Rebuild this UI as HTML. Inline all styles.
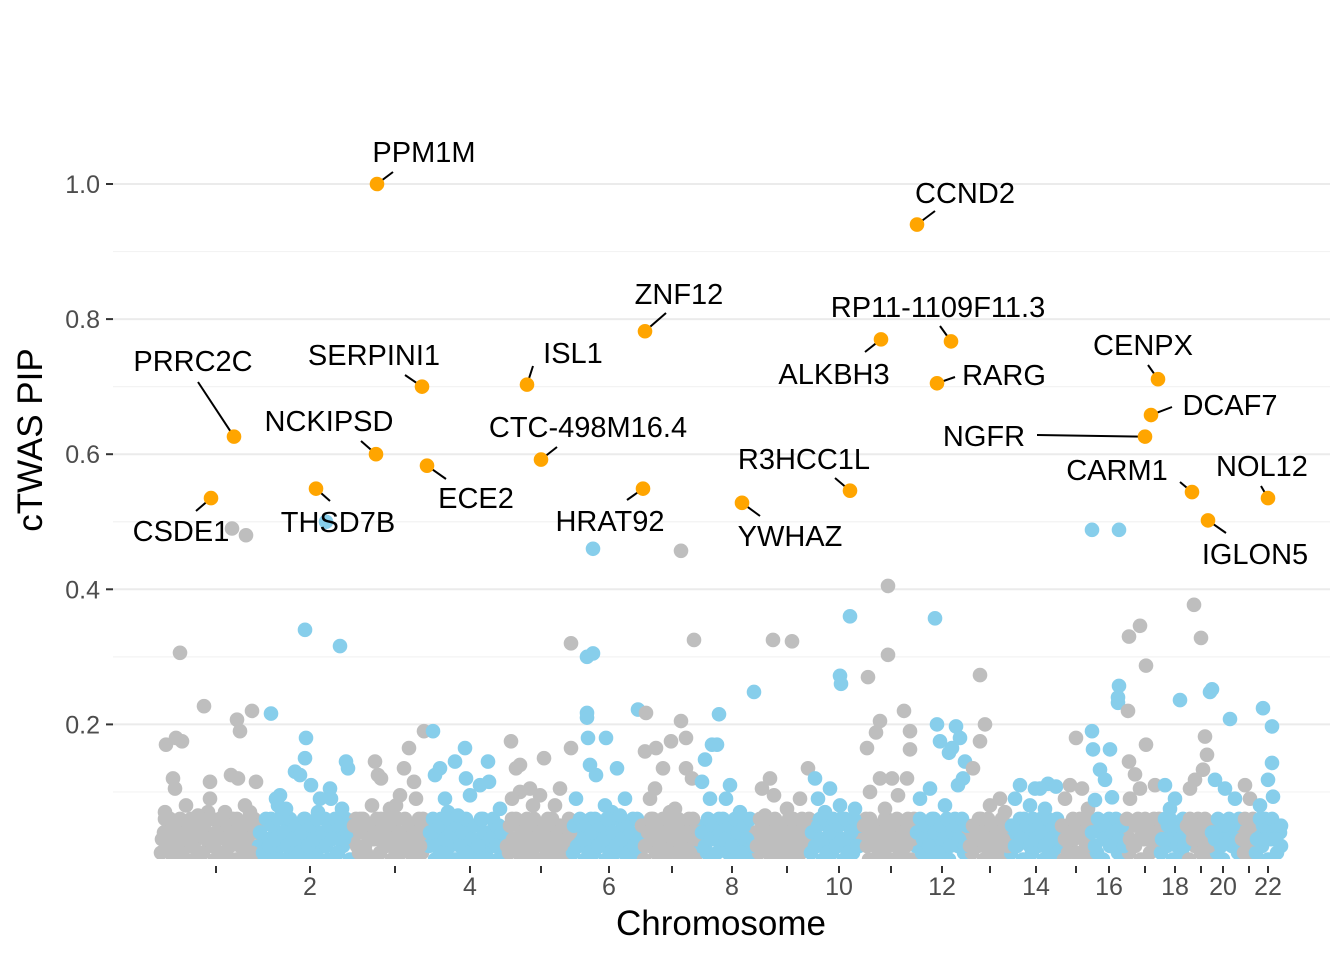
<!DOCTYPE html>
<html><head><meta charset="utf-8">
<style>
html,body{margin:0;padding:0;background:#fff;}
svg{display:block;font-family:"Liberation Sans",sans-serif;}
</style></head>
<body>
<svg id="chart" width="1344" height="960" viewBox="0 0 1344 960">
<defs><clipPath id="panel"><rect x="113" y="100" width="1217" height="759"/></clipPath></defs>
<g id="grid"></g>
<g id="pts" clip-path="url(#panel)"></g>
<g id="labels"></g>
<g id="axes"></g>
<text x="721" y="935" text-anchor="middle" font-size="35" fill="#000">Chromosome</text>
<text transform="translate(42,440) rotate(-90)" text-anchor="middle" font-size="35" fill="#000">cTWAS PIP</text>
</svg>
<script>
const chromLen = [98,94,76,77,67,68,60,55,55,52,53,53,42,50,30,35,35,25,25,30,15,27];
const xTickPos = [56,150,235,310,381,449,512,572,627,679,731,782,830,876,916,949,985,1015,1041,1063,1089,1108];
const yTicks = [0.2,0.4,0.6,0.8,1.0];
const yTickLabels = ["0.2","0.4","0.6","0.8","1.0"];
const yMinor = [0.1,0.3,0.5,0.7,0.9];
// mid points: [chr, pos, pip]
const midPoints = [
[1,6,.17],[1,16,.18],[1,22,.175],[1,20,.306],[1,44,.227],[1,13,.12],[1,15,.105],[1,26,.08],[1,50,.115],[1,50,.09],[1,71,.125],[1,78,.12],[1,96,.115],[1,77,.207],[1,80,.19],[1,92,.22],[1,72,.49],[1,86,.48],[1,38,.065],[1,60,.06],[1,85,.08],[1,30,.05],[1,65,.07],
[2,47,.34],[2,82,.316],[2,13,.216],[2,48,.18],[2,47,.15],[2,37,.13],[2,42,.125],[2,53,.11],[2,72,.105],[2,73,.09],[2,88,.145],[2,22,.095],[2,18,.09],[2,68,.5],[2,62,.09],[2,28,.075],[2,84,.075],[2,90,.135],
[3,23,.145],[3,26,.125],[3,29,.12],[3,57,.165],[3,52,.135],[3,62,.115],[3,72,.19],[3,48,.095],[3,20,.08],[3,8,.06],[3,38,.075],[3,64,.09],
[4,5,.19],[4,12,.135],[4,7,.125],[4,37,.165],[4,38,.12],[4,52,.11],[4,61,.115],[4,60,.145],[4,27,.145],[4,42,.095],[4,17,.09],[4,72,.075],[4,30,.065],
[5,6,.175],[5,11,.135],[5,15,.14],[5,39,.15],[5,25,.105],[5,15,.1],[5,55,.105],[5,50,.08],[5,7,.09],[5,35,.095],[5,66,.32],[5,66,.165],
[6,15,.30],[6,21,.305],[6,21,.46],[6,15,.217],[6,15,.21],[6,16,.18],[6,34,.18],[6,18,.14],[6,45,.135],[6,24,.125],[6,4,.09],[6,53,.09],[6,66,.222],[6,48,.065],[6,33,.08],
[7,41,.457],[7,54,.325],[7,6,.217],[7,5,.16],[7,16,.165],[7,31,.175],[7,41,.205],[7,46,.18],[7,46,.135],[7,52,.12],[7,15,.105],[7,23,.135],[7,10,.09],[7,35,.075],
[8,19,.215],[8,12,.17],[8,17,.17],[8,5,.148],[8,2,.115],[8,30,.11],[8,10,.09],[8,40,.07],[8,26,.09],[8,54,.248],
[9,18,.325],[9,37,.323],[9,19,.095],[9,7,.105],[9,15,.12],[9,53,.135],[9,45,.09],[9,32,.075],[9,10,.065],
[10,40,.36],[10,30,.272],[10,31,.26],[10,5,.12],[10,8,.09],[10,30,.08],[10,15,.07],[10,45,.075],[10,20,.105],
[11,26,.405],[11,26,.303],[11,6,.27],[11,5,.165],[11,18,.205],[11,14,.188],[11,42,.22],[11,48,.19],[11,48,.163],[11,18,.12],[11,30,.12],[11,45,.12],[11,8,.1],[11,36,.095],[11,23,.075],
[12,20,.357],[12,22,.2],[12,41,.197],[12,25,.175],[12,37,.165],[12,45,.18],[12,34,.158],[12,50,.145],[12,48,.12],[12,43,.11],[12,5,.09],[12,30,.08],[12,15,.105],
[13,12,.273],[13,17,.2],[13,12,.175],[13,5,.135],[13,32,.09],[13,22,.08],[13,37,.07],
[14,10,.11],[14,25,.105],[14,38,.112],[14,46,.108],[14,5,.09],[14,20,.08],[14,35,.075],[14,30,.105],
[15,16,.18],[15,10,.11],[15,22,.105],[15,5,.09],[15,28,.075],
[16,2,.488],[16,29,.488],[16,29,.257],[16,28,.24],[16,28,.232],[16,2,.19],[16,3,.163],[16,20,.163],[16,10,.133],[16,15,.118],[16,22,.092],[16,5,.088],
[17,15,.346],[17,4,.33],[17,21,.287],[17,3,.22],[17,4,.145],[17,21,.17],[17,10,.126],[17,15,.105],[17,30,.11],[17,5,.09],
[18,20,.236],[18,5,.11],[18,15,.09],[18,10,.075],
[19,9,.377],[19,16,.328],[19,20,.182],[19,22,.155],[19,10,.118],[19,5,.105],[19,18,.133],
[20,2,.252],[20,0,.248],[20,20,.208],[20,5,.118],[20,15,.105],[20,25,.09],
[21,5,.11],[21,10,.09],
[22,8,.224],[22,17,.197],[22,17,.143],[22,13,.118],[22,18,.093],[22,5,.08]
];
// low band per chromosome: "pos/pipHundredths"
const lowBand = [
"1/1 4/4 7/2 10/6 13/0 16/3 19/5 22/1 25/4 28/2 31/6 34/0 37/3 40/5 43/1 46/4 49/2 52/6 55/0 58/3 61/5 64/1 67/4 70/2 73/6 76/0 79/3 82/5 85/1 88/4 91/2 94/6 97/0 5/7 48/7 90/7",
"1/2 4/5 7/0 10/3 13/6 16/1 19/4 22/2 25/6 28/0 31/3 34/5 37/1 40/4 43/2 46/6 49/0 52/3 55/5 58/1 61/4 64/2 67/6 70/0 73/3 76/5 79/1 82/4 85/2 88/6 92/0 20/8 60/7",
"1/3 4/6 7/1 10/4 13/2 16/5 19/0 22/3 25/6 28/1 31/4 34/2 37/5 40/0 43/3 46/6 49/1 52/4 55/2 58/5 61/0 64/3 67/6 70/1 73/4 75/2 44/8",
"1/2 4/5 7/0 10/3 13/6 16/1 19/4 22/2 25/5 28/0 31/3 34/6 37/1 40/4 43/2 46/5 49/0 52/3 55/6 58/1 61/4 64/2 67/5 70/0 73/3 76/1 20/7",
"1/4 4/1 7/6 10/2 13/5 16/0 19/3 22/6 25/1 28/4 31/2 34/5 37/0 40/3 43/6 46/1 49/4 52/2 55/5 58/0 61/3 64/6 66/1 28/8",
"1/1 4/4 7/2 10/5 13/0 16/3 19/6 22/1 25/4 28/2 31/5 34/0 37/3 40/6 43/1 46/4 49/2 52/5 55/0 58/3 61/6 64/1 67/4 40/7",
"1/3 4/0 7/5 10/2 13/6 16/1 19/4 22/0 25/3 28/6 31/2 34/5 37/1 40/4 43/0 46/3 49/6 52/2 55/5 58/1 30/7",
"1/2 4/5 7/1 10/4 13/0 16/3 19/6 22/2 25/5 28/1 31/4 34/0 37/3 40/6 43/2 46/5 49/1 52/4 54/0",
"1/4 4/1 7/5 10/2 13/6 16/0 19/3 22/5 25/1 28/4 31/2 34/6 37/0 40/3 43/5 46/1 49/4 52/2 54/6",
"1/1 4/5 7/2 10/6 13/0 16/3 19/5 22/1 25/4 28/2 31/6 34/0 37/3 40/5 43/1 46/4 49/2 51/5",
"1/3 4/6 7/0 10/4 13/2 16/5 19/1 22/3 25/6 28/0 31/4 34/2 37/5 40/1 43/3 46/6 49/0 52/4",
"1/2 4/5 7/1 10/4 13/0 16/3 19/6 22/2 25/5 28/1 31/4 34/0 37/3 40/6 43/2 46/5 49/1 52/4",
"1/4 4/1 7/5 10/2 13/6 16/0 19/3 22/5 25/1 28/4 31/2 34/6 37/0 40/3 41/5",
"1/1 4/4 7/2 10/6 13/0 16/3 19/5 22/1 25/4 28/2 31/6 34/0 37/3 40/5 43/1 46/4 49/2",
"1/3 4/0 7/5 10/2 13/6 16/1 19/4 22/0 25/3 28/6 29/1",
"1/2 4/5 7/1 10/4 13/0 16/3 19/6 22/2 25/5 28/1 31/4 34/0",
"1/4 4/1 7/5 10/2 13/6 16/0 19/3 22/5 25/1 28/4 31/2 34/6",
"1/1 4/4 7/2 10/6 13/0 16/3 19/5 22/1 24/4",
"1/3 4/0 7/5 10/2 13/6 16/1 19/4 22/0 24/3",
"1/2 4/5 7/1 10/4 13/0 16/3 19/6 22/2 25/5 28/1 29/4",
"1/4 4/1 7/5 10/2 13/6 14/0",
"1/1 4/4 7/2 10/6 13/0 16/3 19/5 22/1 25/4 26/2"
];
const lowBandB = [
"2/3 5/6 8/4 11/1 14/5 17/2 20/6 23/3 26/0 29/5 32/2 35/6 38/4 41/1 44/5 47/3 50/6 53/2 56/4 59/1 62/6 65/3 68/5 71/0 74/4 77/6 80/2 83/5 86/3 89/6 92/1 95/4 97/5",
"2/4 5/1 8/6 11/2 14/5 17/3 20/6 23/0 26/4 29/2 32/6 35/3 38/5 41/1 44/4 47/6 50/2 53/5 56/3 59/6 62/0 65/4 68/2 71/5 74/3 77/6 80/1 83/5 86/3 89/4 92/5",
"2/5 5/2 8/4 11/6 14/1 17/3 20/5 23/0 26/4 29/6 32/2 35/5 38/3 41/6 44/1 47/4 50/2 53/6 56/3 59/5 62/1 65/4 68/2 71/6 74/5",
"2/4 5/6 8/2 11/5 14/1 17/3 20/6 23/4 26/0 29/5 32/2 35/4 38/6 41/1 44/3 47/5 50/2 53/6 56/4 59/0 62/3 65/6 68/2 71/5 74/4",
"2/2 5/5 8/3 11/6 14/1 17/4 20/2 23/5 26/3 29/6 32/0 35/4 38/2 41/5 44/3 47/6 50/1 53/4 56/2 59/5 62/3 65/4",
"2/5 5/2 8/6 11/3 14/5 17/1 20/4 23/6 26/2 29/5 32/3 35/6 38/1 41/4 44/2 47/6 50/3 53/5 56/1 59/4 62/2 65/6 67/3",
"2/5 5/2 8/4 11/6 14/3 17/5 20/2 23/6 26/4 29/1 32/5 35/3 38/6 41/2 44/5 47/4 50/1 53/6 56/3 59/4",
"2/4 5/2 8/6 11/3 14/5 17/1 20/4 23/6 26/3 29/5 32/2 35/6 38/4 41/1 44/5 47/3 50/6 53/2",
"2/2 5/6 8/3 11/5 14/1 17/4 20/6 23/2 26/5 29/3 32/1 35/4 38/6 41/2 44/4 47/6 50/3 53/5",
"2/4 5/2 8/5 11/3 14/6 17/1 20/4 23/6 26/2 29/5 32/3 35/6 38/1 41/4 44/6 47/2 50/5",
"2/5 5/2 8/6 11/3 14/5 17/1 20/4 23/6 26/2 29/5 32/3 35/6 38/1 41/4 44/2 47/5 50/3 52/6",
"2/4 5/6 8/3 11/5 14/2 17/6 20/4 23/1 26/5 29/3 32/6 35/2 38/4 41/5 44/3 47/6 50/2 52/5",
"2/2 5/5 8/3 11/6 14/4 17/2 20/6 23/3 26/5 29/1 32/4 35/3 38/5 40/2",
"2/5 5/2 8/4 11/3 14/6 17/5 20/2 23/6 26/3 29/5 32/4 35/2 38/6 41/3 44/5 47/6 49/3",
"2/5 5/3 8/1 11/4 14/3 17/5 20/6 23/4 26/2 29/5",
"2/4 5/2 8/6 11/5 14/3 17/5 20/2 23/4 26/6 29/3 32/5 34/2",
"2/6 5/3 8/2 11/5 14/3 17/5 20/6 23/3 26/5 29/6 32/4 34/3",
"2/3 5/6 8/5 11/3 14/5 17/2 20/3 23/6 24/2",
"2/5 5/6 8/3 11/5 14/3 17/5 20/6 23/5 24/2",
"2/4 5/3 8/6 11/2 14/5 17/5 20/3 23/5 26/3 29/6",
"2/3 5/6 8/3 11/5 14/3",
"2/3 5/6 8/5 11/3 14/5 17/6 20/3 23/5 26/5"
];
// highlighted genes
const geneNames = ["PPM1M","CCND2","ZNF12","ALKBH3","RP11-1109F11.3","RARG","SERPINI1","ISL1","CENPX","DCAF7","NGFR","PRRC2C","NCKIPSD","ECE2","CTC-498M16.4","HRAT92","R3HCC1L","YWHAZ","CARM1","NOL12","IGLON5","CSDE1","THSD7B"];
const geneChr = [3,12,7,11,12,12,3,5,17,17,17,1,3,3,5,7,10,8,19,22,19,1,2];
const genePos = [25,2,5,19,36,22,70,22,33,26,20,74,24,75,36,3,40,42,7,13,23,51,58];
const genePip = [1.0,0.94,0.782,0.77,0.767,0.705,0.70,0.703,0.711,0.658,0.626,0.626,0.60,0.583,0.592,0.549,0.546,0.528,0.544,0.535,0.502,0.535,0.549];
// label layout (pixels): text x, baseline y, line end x, line end y
const labelLayout = [
[424,162,393,172],[965,203,935,211],[679,304,666,313],[834,384,865,352],[938,317,940,326],[1004,385,955,377],
[374,365,405,375],[573,363,533,366],[1143,355,1148,365],[1230,415,1172,407],[984,446,1037,435],[193,371,198,382],
[329,431,361,441],[476,508,446,479],[588,437,557,447],[610,531,627,500],[804,469,835,478],[790,546,760,516],
[1117,480,1180,482],[1262,476,1261,486],[1255,564,1226,533],[181,541,196,511],[338,532,330,501]];

const NS="http://www.w3.org/2000/svg";
const X0=160, X1=1282, Y0=859.5, Y1=184, R=7.3;
const total=chromLen.reduce((a,b)=>a+b,0);
const starts=[];let acc=0;chromLen.forEach(l=>{starts.push(acc);acc+=l;});
function xScale(c,p){return X0+(starts[c-1]+p)/total*(X1-X0);}
function xRaw(u){return X0+u/total*(X1-X0);}
function yScale(v){return Y0+(Y1-Y0)*v;}
function mk(tag,attrs,parent){const e=document.createElementNS(NS,tag);for(const k in attrs)e.setAttribute(k,attrs[k]);parent.appendChild(e);return e;}
const grid=document.getElementById('grid'),pts=document.getElementById('pts'),labels=document.getElementById('labels'),axes=document.getElementById('axes');
yMinor.forEach(v=>{const l=mk('line',{x1:113,x2:1330,y1:yScale(v),y2:yScale(v),stroke:'#f3f3f3','stroke-width':1.2},grid);

});
yTicks.forEach((v,i)=>{const y=yScale(v);
const l=mk('line',{x1:113,x2:1330,y1:y,y2:y,stroke:'#ebebeb','stroke-width':2},grid);


const t=mk('line',{x1:106,x2:113,y1:y,y2:y,stroke:'#333','stroke-width':2},axes);


const tx=mk('text',{x:100,y:y+9,'text-anchor':'end','font-size':25,fill:'#4d4d4d'},axes);tx.textContent=yTickLabels[i];

});
xTickPos.forEach((u,i)=>{const x=xRaw(u);
const t=mk('line',{x1:x,x2:x,y1:866,y2:873,stroke:'#333','stroke-width':2},axes);


if((i+1)%2===0){const tx=mk('text',{x:x,y:895,'text-anchor':'middle','font-size':25,fill:'#4d4d4d'},axes);tx.textContent=String(i+1);

}});
function col(c){return c%2===1?'#bebebe':'#87ceeb';}
function drawBand(arr){arr.forEach((s,ci)=>{s.split(' ').forEach(tok=>{const [p,v]=tok.split('/').map(Number);
const c=mk('circle',{cx:xScale(ci+1,p),cy:yScale(v/100),r:R,fill:col(ci+1)},pts);

});});}
drawBand(lowBand);drawBand(lowBandB);
midPoints.forEach(d=>{const c=mk('circle',{cx:xScale(d[0],d[1]),cy:yScale(d[2]),r:R,fill:col(d[0])},pts);

});
geneNames.forEach((n,i)=>{const cx=xScale(geneChr[i],genePos[i]),cy=yScale(genePip[i]);const L=labelLayout[i];
const dx=L[2]-cx,dy=L[3]-cy,d=Math.hypot(dx,dy)||1;
const ln=mk('line',{x1:cx+dx/d*4,y1:cy+dy/d*4,x2:L[2],y2:L[3],stroke:'#000','stroke-width':2},labels);


const c=mk('circle',{cx:cx,cy:cy,r:R,fill:'#ffa500'},labels);


const t=mk('text',{x:L[0],y:L[1],'text-anchor':'middle','font-size':29,fill:'#000'},labels);t.textContent=n;

});
</script>
</body></html>
